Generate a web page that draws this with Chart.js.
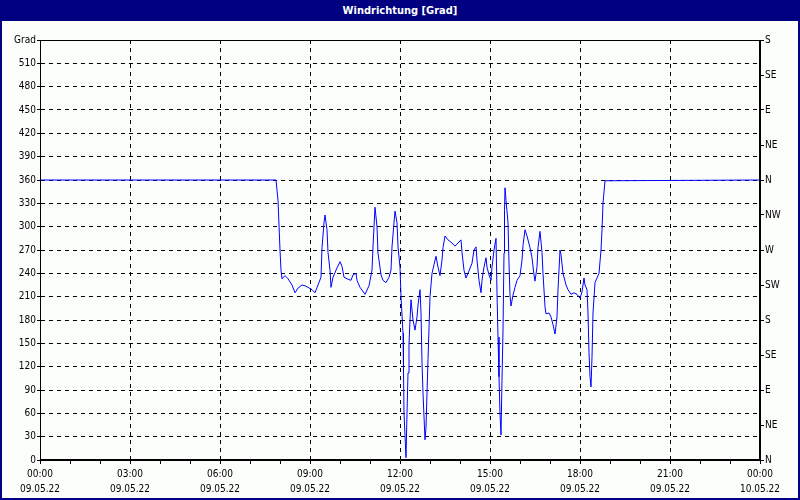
<!DOCTYPE html>
<html lang="de">
<head>
    <meta charset="UTF-8">
    <title>Windrichtung [Grad]</title>
    <script src="https://cdn.jsdelivr.net/npm/chart.js"></script>
    <style>
        body { margin: 0; background: #fcfefc; }
        #rahmen {
            position: relative; width: 800px; height: 500px; box-sizing: border-box;
            border: 2px solid #000080; border-top: none; background: #fcfefc;
        }
        #titel {
            position: absolute; left: -2px; top: 0; width: 800px; height: 21px;
            background: #000080; color: #fff; text-align: center;
            font: bold 11px "DejaVu Sans Condensed", sans-serif;
            line-height: 21px;
        }
        #diagramm { position: absolute; left: 0; top: 21px; }
    </style>
</head>
<body>
<div id="rahmen">
    <div id="titel">Windrichtung [Grad]</div>
    <canvas id="diagramm" width="796" height="477"></canvas>
</div>
<script>
    // Zeitpunkte in Minuten ab 09.05.22 00:00
    const minuten = [0, 472, 476, 480, 482, 484, 490, 496, 504, 510, 516, 524, 530, 536, 544, 550, 556, 562, 564, 568,
        570, 574, 576, 580, 582, 586, 594, 600, 604, 608, 614, 622, 626, 632, 634, 640, 650, 658, 664, 666,
        668, 670, 674, 676, 682, 686, 692, 698, 702, 704, 708, 710, 714, 716, 720, 722, 726, 727, 728, 732,
        734, 736, 738, 740, 742, 744, 746, 750, 754, 756, 760, 762, 764, 766, 770, 772, 774, 776, 780, 784,
        788, 792, 796, 800, 804, 806, 810, 816, 824, 830, 836, 842, 844, 848, 852, 856, 864, 868, 872, 874,
        878, 882, 884, 888, 892, 894, 898, 902, 904, 908, 912, 914, 916, 918, 920, 922, 924, 926, 928, 929,
        930, 932, 936, 938, 940, 942, 946, 950, 954, 960, 964, 966, 970, 974, 980, 984, 988, 990, 994, 996,
        1000, 1004, 1006, 1010, 1012, 1018, 1022, 1026, 1030, 1034, 1036, 1040, 1042, 1046, 1052, 1056, 1062, 1068, 1074, 1080,
        1084, 1088, 1090, 1094, 1096, 1098, 1100, 1102, 1104, 1106, 1110, 1114, 1118, 1122, 1124, 1126, 1130, 1440];
    // Windrichtung in Grad
    const grad = [360, 360, 334, 270, 244, 233, 237, 233, 225, 215, 221, 225, 224, 222, 219, 215, 225, 235, 273, 305,
        315, 296, 267, 244, 222, 235, 247, 255, 249, 235, 233, 231, 238, 240, 231, 222, 213, 224, 244, 274,
        300, 325, 300, 266, 238, 231, 228, 235, 244, 274, 305, 320, 305, 274, 248, 210, 163, 116, 60, 3,
        60, 112, 150, 180, 206, 193, 180, 167, 184, 199, 219, 189, 125, 86, 26, 42, 86, 129, 210, 240,
        251, 262, 248, 237, 257, 273, 288, 283, 279, 275, 279, 283, 267, 244, 234, 240, 253, 270, 274, 257,
        231, 215, 231, 248, 260, 248, 238, 231, 248, 270, 285, 215, 158, 107, 60, 32, 103, 167, 266, 321,
        350, 334, 305, 253, 212, 198, 212, 222, 231, 237, 257, 276, 296, 288, 273, 260, 238, 230, 248, 273,
        294, 267, 240, 197, 188, 189, 184, 174, 162, 184, 219, 270, 264, 240, 225, 219, 213, 215, 213, 208,
        216, 234, 225, 219, 189, 138, 107, 94, 132, 189, 228, 234, 240, 270, 296, 330, 359, 360];

    // Achsenbeschriftungen
    const uhrzeiten = ['00:00', '03:00', '06:00', '09:00', '12:00', '15:00', '18:00', '21:00', '00:00'];
    const daten = ['09.05.22', '09.05.22', '09.05.22', '09.05.22', '09.05.22', '09.05.22', '09.05.22', '09.05.22', '10.05.22'];
    const richtungen = ['N', 'NE', 'E', 'SE', 'S', 'SW', 'W', 'NW', 'N', 'NE', 'E', 'SE', 'S'];

    const schrift = { family: '"DejaVu Sans Condensed", sans-serif', size: 10, lineHeight: '15px' };

    // Rahmen: durchgezogene Linien um die Zeichenfläche (Gitter ist gestrichelt)
    const rahmenPlugin = {
        id: 'rahmen',
        afterDraw(chart) {
            const { ctx, chartArea } = chart;
            const l = Math.round(chartArea.left) + 0.5, r = Math.round(chartArea.right) - 0.5;
            const t = Math.round(chartArea.top) + 0.5, b = Math.round(chartArea.bottom) - 0.5;
            ctx.save();
            ctx.setLineDash([]);
            ctx.strokeStyle = '#000';
            ctx.lineWidth = 1;
            ctx.strokeRect(l, t, r - l, b - t);
            ctx.restore();
        }
    };

    new Chart(document.getElementById('diagramm'), {
        type: 'line',
        data: {
            datasets: [{
                data: minuten.map((m, i) => ({ x: m, y: grad[i] })),
                borderColor: '#0000ff',
                borderWidth: 1,
                pointRadius: 0,
                tension: 0
            }]
        },
        options: {
            responsive: false,
            animation: false,
            devicePixelRatio: 1,
            layout: { padding: { top: 19, left: 0, right: 0, bottom: 0 } },
            plugins: { legend: { display: false }, tooltip: { enabled: false } },
            scales: {
                x: {
                    type: 'linear', min: 0, max: 1440,
                    ticks: {
                        stepSize: 60, autoSkip: false, maxRotation: 0, padding: 3,
                        color: '#000', font: schrift,
                        callback: v => v % 180 === 0 ? [uhrzeiten[v / 180], daten[v / 180]] : ''
                    },
                    grid: {
                        color: c => c.tick && c.tick.value % 180 === 0 ? '#000' : 'transparent',
                        tickColor: '#000', tickLength: 4, tickBorderDash: []
                    },
                    border: { color: '#000', dash: [4, 4] },
                    afterFit: s => { s.height = 38; s.paddingLeft = 0; s.paddingRight = 0; }
                },
                y: {
                    position: 'left', min: 0, max: 540,
                    ticks: {
                        stepSize: 30, padding: 1, color: '#000', font: schrift,
                        callback: v => v === 540 ? 'Grad' : v
                    },
                    grid: { color: '#000', tickColor: '#000', tickLength: 3, tickBorderDash: [] },
                    border: { color: '#000', dash: [4, 4] },
                    afterFit: s => { s.width = 38; s.paddingTop = 0; s.paddingBottom = 0; }
                },
                y2: {
                    position: 'right', min: 0, max: 540,
                    ticks: {
                        stepSize: 45, padding: 1, color: '#000', font: schrift,
                        callback: v => richtungen[v / 45]
                    },
                    grid: { drawOnChartArea: false, tickColor: '#000', tickLength: 4 },
                    border: { color: '#000' },
                    afterFit: s => { s.width = 38; s.paddingTop = 0; s.paddingBottom = 0; }
                }
            }
        },
        plugins: [rahmenPlugin]
    });
</script>
</body>
</html>
